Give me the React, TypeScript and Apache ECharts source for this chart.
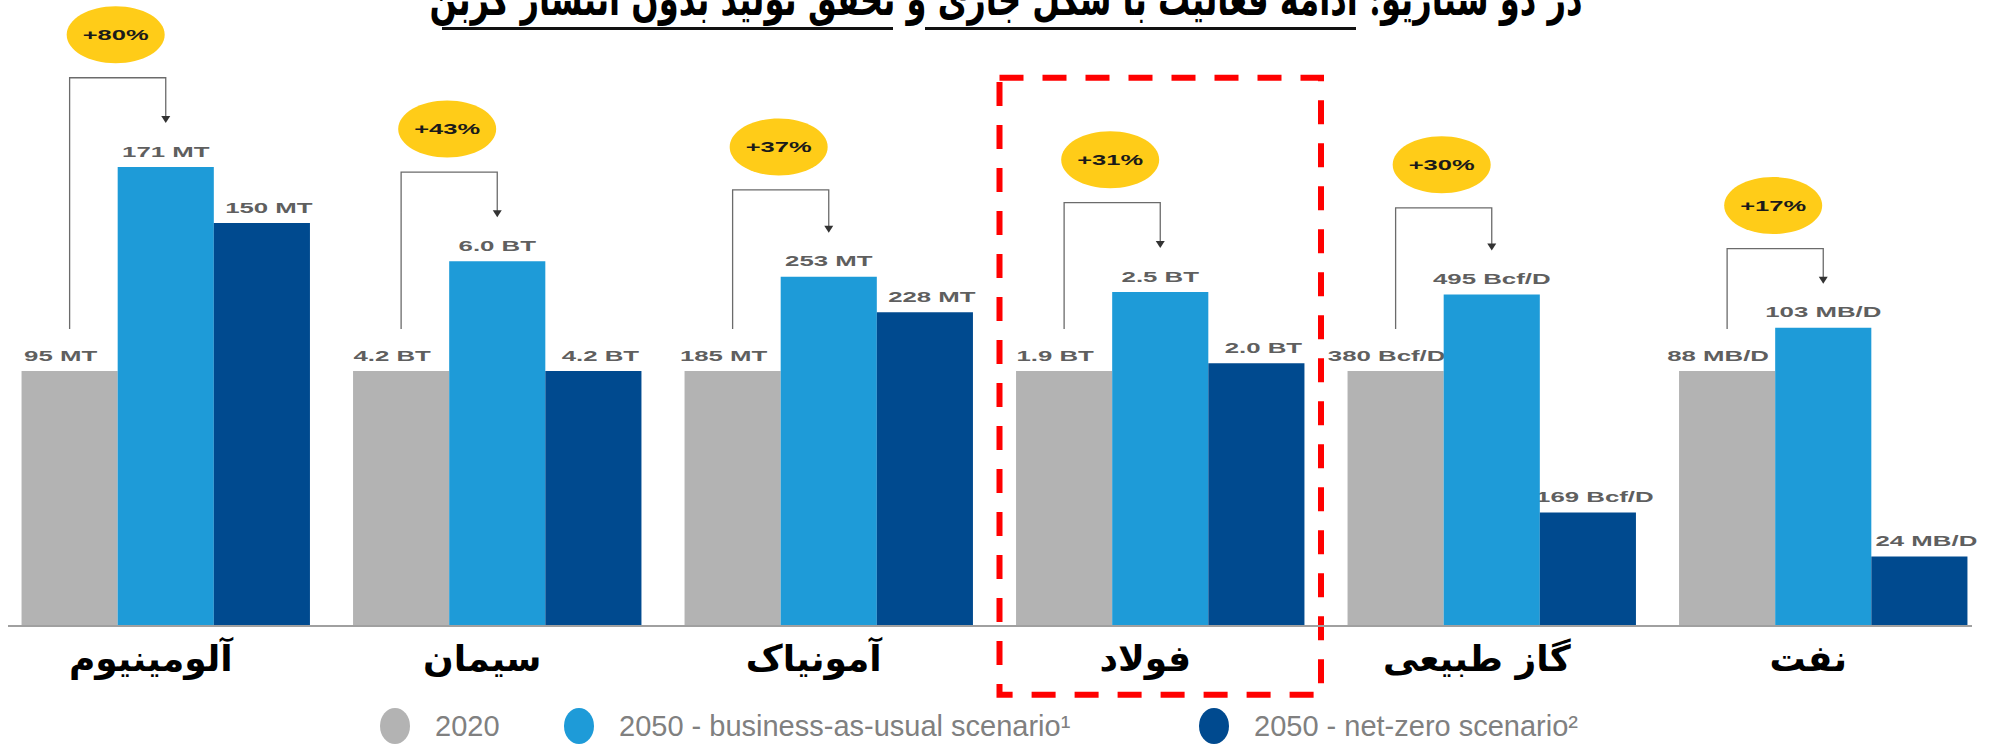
import React, { useEffect, useRef } from "react";
import * as echarts from "echarts";

// ---- data ----
const categories = ["آلومینیوم", "سیمان", "آمونیاک", "فولاد", "گاز طبیعی", "نفت"];
const seriesNames = ["2020", "2050 - business-as-usual scenario¹", "2050 - net-zero scenario²"];
// bar heights, indexed so that 2020 = 100
const index2020 = [100, 100, 100, 100, 100, 100];
const indexBAU = [180, 143, 137, 131, 130, 117];
const indexNZ = [158, 100, 123, 103, 44.5, 27.3];
const labels2020 = ["95 MT", "4.2 BT", "185 MT", "1.9 BT", "380 Bcf/D", "88 MB/D"];
const labelsBAU = ["171 MT", "6.0 BT", "253 MT", "2.5 BT", "495 Bcf/D", "103 MB/D"];
const labelsNZ = ["150 MT", "4.2 BT", "228 MT", "2.0 BT", "169 Bcf/D", "24 MB/D"];
const growth = ["+80%", "+43%", "+37%", "+31%", "+30%", "+17%"];
const bracketLevel = [215, 178, 171, 166, 164, 148];
const highlightIndex = 3;
const highlightRange = [-27, 215];
const titleText = "در دو سناریو: ادامه فعالیت با شکل جاری و تحقق تولید بدون انتشار کربن";

const COLORS = ["#B3B3B3", "#1E9BD8", "#004A8F"];
const CAT_GAP = 0.13;
const LEGEND_LEFT = [375, 559, 1194];

export default function App() {
  const ref = useRef<HTMLDivElement>(null);
  useEffect(() => {
    if (!ref.current) return;
    const chart = echarts.init(ref.current, null, { renderer: "svg" });

    const barW = (api: any) => (api.size([1, 0])[0] * (1 - CAT_GAP)) / 3;

    const option: any = {
      animation: false,
      backgroundColor: "#ffffff",
      grid: { left: -7, width: 1996, top: 116, bottom: 118, containLabel: false },
      xAxis: {
        type: "category",
        data: categories,
        axisLine: { show: false },
        axisTick: { show: false },
        axisLabel: {
          margin: 14,
          fontSize: 36,
          fontWeight: "bold",
          color: "#000",
          fontFamily: "'DejaVu Sans', sans-serif",
          padding: [0, 30, 0, 0],
        },
      },
      yAxis: { type: "value", min: 0, max: 200, show: false, splitLine: { show: false } },
      legend: seriesNames.map((n, k) => ({
        data: [n],
        left: LEGEND_LEFT[k],
        top: 703,
        itemWidth: 30,
        itemHeight: 36,
        selectedMode: false,
        icon: "path://M15,0 A15,18 0 1 1 15,36 A15,18 0 1 1 15,0 Z",
        textStyle: {
          fontSize: 29,
          color: "#808080",
          fontFamily: "'Liberation Sans', Arial, sans-serif",
          padding: [0, 0, 0, 20],
        },
      })),
      series: [
        ...[index2020, indexBAU, indexNZ].map((d, k) => ({
          type: "bar",
          name: seriesNames[k],
          data: d,
          barGap: "0%",
          barCategoryGap: "13%",
          itemStyle: { color: COLORS[k] },
          silent: true,
        })),
        {
          type: "custom",
          name: "values",
          clip: false,
          silent: true,
          data: categories.map((_, i) => [i, index2020[i], indexBAU[i], indexNZ[i]]),
          renderItem: (params: any, api: any) => {
            const i = params.dataIndex;
            const ci = api.value(0);
            const w = barW(api);
            const cx = api.coord([ci, 0])[0];
            const vals = [api.value(1), api.value(2), api.value(3)];
            const texts = [labels2020[i], labelsBAU[i], labelsNZ[i]];
            const nudges = [-9, 0, 7];
            return {
              type: "group",
              children: vals.map((v: number, k: number) => ({
                type: "text",
                x: cx + (k - 1) * w + nudges[k],
                y: api.coord([ci, v])[1] - 8,
                scaleX: 1.72,
                style: {
                  text: texts[k],
                  fill: "#5f5f5f",
                  fontSize: 15,
                  fontWeight: "bold",
                  fontFamily: "'Liberation Sans', Arial, sans-serif",
                  align: "center",
                  verticalAlign: "bottom",
                },
              })),
            };
          },
        },
        {
          type: "custom",
          name: "growth",
          clip: false,
          silent: true,
          data: categories.map((_, i) => [i, index2020[i], indexBAU[i], bracketLevel[i]]),
          renderItem: (params: any, api: any) => {
            const i = params.dataIndex;
            const ci = api.value(0);
            const w = barW(api);
            const cx = api.coord([ci, 0])[0];
            const grayX = cx - w;
            const lightX = cx;
            const grayTop = api.coord([ci, api.value(1)])[1];
            const lightTop = api.coord([ci, api.value(2)])[1];
            const yh = api.coord([ci, api.value(3)])[1];
            const leftBottom = grayTop - 42;
            const tip = lightTop - 44;
            const ex = cx - w / 2 - 2;
            const ey = yh - 43;
            return {
              type: "group",
              children: [
                {
                  type: "polyline",
                  shape: { points: [[grayX, leftBottom], [grayX, yh], [lightX, yh], [lightX, tip - 5]] },
                  style: { stroke: "#6b6b6b", lineWidth: 1.3, fill: null },
                },
                {
                  type: "polygon",
                  shape: { points: [[lightX - 4.5, tip - 7], [lightX + 4.5, tip - 7], [lightX, tip]] },
                  style: { fill: "#333" },
                },
                {
                  type: "ellipse",
                  shape: { cx: ex, cy: ey, rx: 49, ry: 28.5 },
                  style: { fill: "#FFCC18" },
                },
                {
                  type: "text",
                  x: ex,
                  y: ey,
                  scaleX: 1.7,
                  style: {
                    text: growth[i],
                    fill: "#1a1a1a",
                    fontSize: 15,
                    fontWeight: "bold",
                    fontFamily: "'Liberation Sans', Arial, sans-serif",
                    align: "center",
                    verticalAlign: "middle",
                  },
                },
              ],
            };
          },
        },
        {
          type: "custom",
          name: "highlight",
          clip: false,
          silent: true,
          z: 10,
          data: [[highlightIndex, highlightRange[0], highlightRange[1]]],
          renderItem: (params: any, api: any) => {
            const ci = api.value(0);
            const band = api.size([1, 0])[0];
            const cx = api.coord([ci, 0])[0];
            const yb = api.coord([ci, api.value(1)])[1];
            const yt = api.coord([ci, api.value(2)])[1];
            return {
              type: "rect",
              shape: { x: cx - band / 2 + 5, y: yt, width: band - 10, height: yb - yt },
              style: { fill: null, stroke: "#FF0000", lineWidth: 6, lineDash: [24, 19] },
            };
          },
        },
      ],
      graphic: [
        {
          type: "line",
          z: 100,
          shape: { x1: 8, y1: 626, x2: 1972, y2: 626 },
          style: { stroke: "#a0a0a0", lineWidth: 2 },
        },
        {
          type: "text",
          x: 1006,
          y: 22,
          scaleX: 0.7,
          style: {
            text: titleText,
            fill: "#000",
            fontSize: 46,
            fontWeight: "bold",
            fontFamily: "'DejaVu Serif', 'DejaVu Sans', serif",
            align: "center",
            verticalAlign: "bottom",
          },
        },
        {
          type: "line",
          shape: { x1: 442, y1: 28.5, x2: 893, y2: 28.5 },
          style: { stroke: "#111", lineWidth: 3 },
        },
        {
          type: "line",
          shape: { x1: 925, y1: 28.5, x2: 1356, y2: 28.5 },
          style: { stroke: "#111", lineWidth: 3 },
        },
      ],
    };

    chart.setOption(option);
    return () => chart.dispose();
  }, []);

  return (
    <div
      ref={ref}
      style={{ position: "fixed", left: 0, top: 0, width: 1991, height: 744, background: "#fff" }}
    />
  );
}
